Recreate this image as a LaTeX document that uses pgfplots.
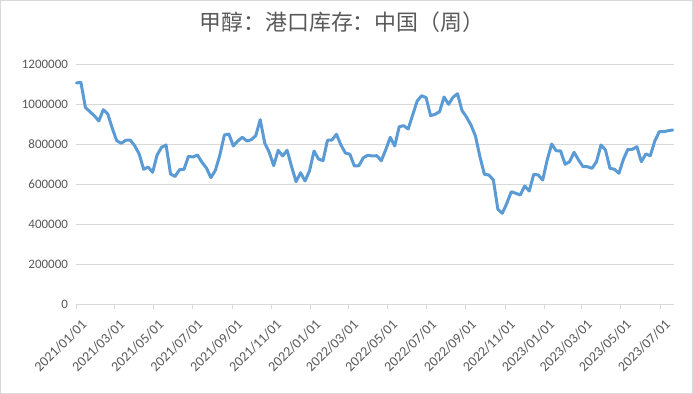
\documentclass[border=0pt]{standalone}
\usepackage{pgfplots}
\pgfplotsset{compat=1.18}
\usepackage{pgfplotstable}
\usepackage{fontspec}
\setmainfont{Carlito}
\newfontfamily\cjk{Noto Sans CJK SC}
\definecolor{linecol}{HTML}{5B9BD5}
\definecolor{labelgray}{HTML}{595959}
\definecolor{gridgray}{HTML}{D9D9D9}
\pgfplotstableread{
d v
0 1105000
7 1108500
14 983500
21 961500
28 941500
35 915000
42 971500
49 950000
56 878500
63 816500
70 803500
77 818500
84 820000
91 791500
98 750000
105 673500
112 685000
119 658500
126 745000
133 783500
140 795000
147 650000
154 637500
161 671500
168 673500
175 738500
182 735000
189 745000
196 708500
203 680000
210 631500
217 668500
224 745000
231 845000
238 850000
245 790000
252 815000
259 833500
266 815000
273 821500
280 841500
287 921500
294 805000
301 758500
308 691500
315 768500
322 740000
329 768500
336 686500
343 611500
350 656500
357 615000
364 666500
371 765000
378 725000
385 716500
392 818500
399 820000
406 848500
413 795000
420 755000
427 748500
434 690000
441 691500
448 731500
455 743500
462 740000
469 741500
476 716500
483 771500
490 833500
497 790000
504 886500
511 891500
518 875000
525 945000
532 1015000
539 1041500
546 1031500
553 941500
560 948500
567 961500
574 1035000
581 998500
588 1033500
595 1051500
602 967500
609 935000
616 895000
623 840000
630 736500
637 648500
644 645000
651 620000
658 473500
665 453500
672 503500
679 561500
686 553500
693 545000
700 590000
707 565000
714 648500
721 645000
728 620000
735 720000
742 800000
749 766500
756 765000
763 698500
770 711500
777 758500
784 720000
791 686500
798 686500
805 678500
812 711500
819 795000
826 770000
833 678500
840 673500
847 653500
854 723500
861 773500
868 773500
875 786500
882 711500
889 750000
896 741500
903 815000
910 861500
917 861500
924 866500
931 870000
}\datatable
\begin{document}
\begin{tikzpicture}
\useasboundingbox (0,0) rectangle (693bp,394bp);
\fill[white] (0,0) rectangle (693bp,394bp);
\draw[color=gridgray, line width=1bp] (0.5bp,0.5bp) rectangle (692.5bp,393.5bp);
\node[font=\cjk\fontsize{22}{22}\selectfont, text=labelgray, inner sep=0pt] at (342bp,372bp) {甲醇：港口库存：中国（周）};
\begin{axis}[
  at={(76.4bp,90bp)}, anchor=south west,
  scale only axis, width=597.6bp, height=240bp,
  xmin=0, xmax=933, ymin=0, ymax=1200000,
  axis x line=bottom, axis y line=left,
  x axis line style={draw=gridgray, line width=0.75bp, -},
  y axis line style={draw=none},
  ytick={0,200000,400000,600000,800000,1000000,1200000},
  scaled y ticks=false,
  yticklabel style={font=\fontsize{13}{13}\selectfont, /pgf/number format/.cd, fixed, 1000 sep={}, assume math mode=true},
  ytick style={draw=none},
  ymajorgrids, grid style={draw=gridgray, line width=0.75bp},
  xtick={0,59,120,181,243,304,365,424,485,546,608,669,730,789,850,911},
  xticklabels={2021/01/01,2021/03/01,2021/05/01,2021/07/01,2021/09/01,2021/11/01,2022/01/01,2022/03/01,2022/05/01,2022/07/01,2022/09/01,2022/11/01,2023/01/01,2023/03/01,2023/05/01,2023/07/01},
  xtick style={draw=gridgray, line width=0.75bp},
  tick align=outside, major tick length=5bp,
  xticklabel style={xshift=8bp, yshift=-13bp, rotate=45, anchor=east, inner sep=0bp, font=\fontsize{14}{14}\selectfont},
  tick label style={text=labelgray},
  clip=false,
]
\addplot[color=linecol, line width=3bp, line join=round, line cap=round, mark=none] table[x=d, y=v] {\datatable};
\end{axis}
\end{tikzpicture}
\end{document}
